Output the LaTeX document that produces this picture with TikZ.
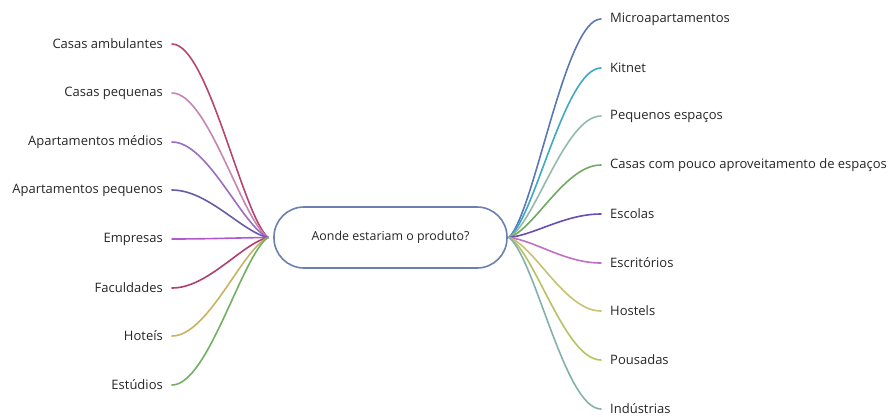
\documentclass[tikz,border=0pt]{standalone}
\usepackage{fontspec}
\setmainfont{Open Sans}
\begin{document}
\begin{tikzpicture}[x=1pt,y=-1pt,
  leafL/.style={anchor=east,inner sep=0pt,text=black!85,font=\fontsize{13}{15}\selectfont},
  leafR/.style={anchor=west,inner sep=0pt,text=black!85,font=\fontsize{13}{15}\selectfont},
  branch/.style={line width=1.6pt,line cap=round},
  center/.style={draw=cblue,line width=1.6pt,rounded corners=30pt,minimum width=233pt,minimum height=61pt,text=black!85,font=\fontsize{12.4}{15}\selectfont}]
\definecolor{cblue}{HTML}{6B80B0}
\useasboundingbox (0,0) rectangle (893,416);
\node[center] (c) at (390.5,237.5) {Aonde estariam o produto?};
\coordinate (cl) at (268,237.5);
\coordinate (cr) at (509,237.5);
% left leaves
\foreach \n/\t/\y/\col in {
  l1/Casas ambulantes/44/B5476E,
  l2/Casas pequenas/93/C885B5,
  l3/Apartamentos médios/142/9A6DC2,
  l4/Apartamentos pequenos/190/6A5AA8,
  l5/Empresas/239/B25ACB,
  l6/Faculdades/288/B0416F,
  l7/Hoteís/336/C8B263,
  l8/Estúdios/385/72B062}{
  \definecolor{bc}{HTML}{\col}
  \node[leafL] (\n) at (163,\y) {\t};
  \coordinate (\n e) at (172,\y);
  \draw[branch,bc] (\n e) .. controls (208,\y) and (242,{237.5+0.12*(\y-237.5)}) .. (cl);
}
% right leaves
\foreach \n/\t/\y/\col in {
  r1/Microapartamentos/19/5A78B2,
  r2/Kitnet/68/40A8C0,
  r3/Pequenos espaços/116/93BBAA,
  r4/Casas com pouco aproveitamento de espaços/165/72AA62,
  r5/Escolas/214/6A4CB2,
  r6/Escritórios/263/C070C2,
  r7/Hostels/311/C8C270,
  r8/Pousadas/360/B9C262,
  r9/Indústrias/409/82B2AA}{
  \definecolor{bc}{HTML}{\col}
  \node[leafR] (\n) at (610,\y) {\t};
  \coordinate (\n e) at (601,\y);
  \draw[branch,bc] (\n e) .. controls (565,\y) and (535,{237.5+0.12*(\y-237.5)}) .. (cr);
}
\end{tikzpicture}
\end{document}
